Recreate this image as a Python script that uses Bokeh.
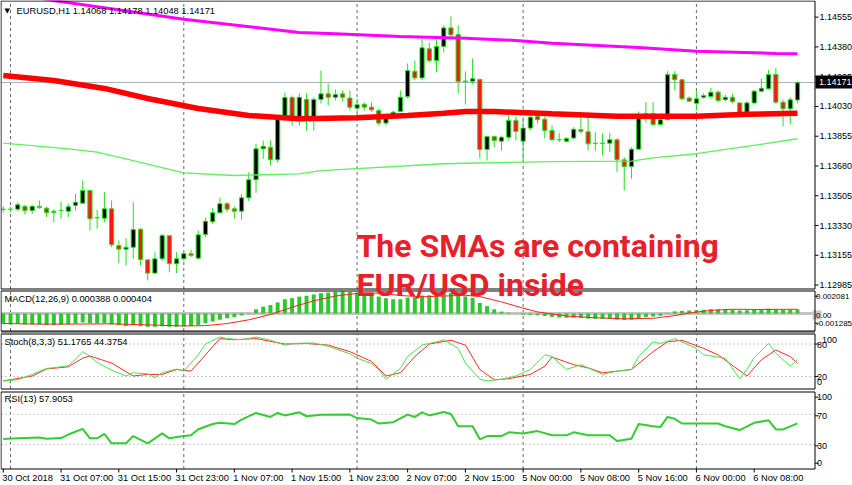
from bokeh.plotting import figure
from bokeh.models import Range1d, Label
from bokeh.embed import file_html
from bokeh.resources import INLINE

# ---------------- data ----------------
bar_index = list(range(111))
opens = [1.13424,1.13426,1.13426,1.13443,1.13418,1.13443,1.13432,1.13414,1.13418,1.13414,
         1.13448,1.13461,1.13536,1.13375,1.13373,1.13428,1.13212,1.13191,1.13202,1.13308,
         1.13128,1.13050,1.13134,1.13270,1.13105,1.13134,1.13164,1.13138,1.13277,1.13352,
         1.13405,1.13458,1.13428,1.13414,1.13493,1.13599,1.13781,1.13790,1.13716,1.13959,
         1.14083,1.13957,1.14071,1.13963,1.14071,1.14104,1.14084,1.14104,1.14079,1.14020,
         1.14043,1.14026,1.14006,1.13932,1.13967,1.14000,1.14088,1.14237,1.14198,1.14369,
         1.14300,1.14383,1.14492,1.14453,1.14177,1.14178,1.14188,1.13777,1.13853,1.13826,
         1.13849,1.13948,1.13826,1.13903,1.13971,1.13955,1.13889,1.13834,1.13826,1.13844,
         1.13893,1.13881,1.13814,1.13812,1.13814,1.13834,1.13716,1.13677,1.13779,1.13963,
         1.13987,1.13924,1.13952,1.14218,1.14187,1.14079,1.14049,1.14084,1.14088,1.14114,
         1.14069,1.14084,1.14051,1.13996,1.14051,1.14120,1.14134,1.14218,1.14055,1.14016,
         1.14068]
highs = [1.13442,1.13438,1.13467,1.13452,1.13452,1.13477,1.13442,1.13424,1.13469,1.13458,
         1.13516,1.13595,1.13540,1.13422,1.13526,1.13477,1.13242,1.13255,1.13467,1.13316,
         1.13130,1.13173,1.13281,1.13272,1.13173,1.13173,1.13187,1.13301,1.13375,1.13432,
         1.13493,1.13467,1.13442,1.13516,1.13643,1.13810,1.13830,1.13830,1.13977,1.14112,
         1.14094,1.14106,1.14106,1.14083,1.14241,1.14165,1.14130,1.14124,1.14124,1.14077,
         1.14053,1.14053,1.14018,1.13989,1.14006,1.14124,1.14283,1.14300,1.14430,1.14406,
         1.14435,1.14506,1.14559,1.14506,1.14236,1.14312,1.14194,1.13859,1.13859,1.13859,
         1.14006,1.13971,1.13965,1.13989,1.13989,1.13971,1.13918,1.13873,1.13849,1.13908,
         1.13967,1.13983,1.13879,1.13871,1.13873,1.13842,1.13732,1.13790,1.14000,1.14055,
         1.14055,1.13987,1.14237,1.14237,1.14193,1.14089,1.14124,1.14108,1.14140,1.14124,
         1.14098,1.14104,1.14055,1.14061,1.14128,1.14193,1.14246,1.14257,1.14069,1.14084,
         1.14178]
lows = [1.13406,1.13408,1.13412,1.13395,1.13399,1.13428,1.13379,1.13349,1.13369,1.13379,
        1.13418,1.13458,1.13301,1.13311,1.13349,1.13202,1.13108,1.13095,1.13134,1.13095,
        1.13007,1.13048,1.13124,1.13055,1.13050,1.13124,1.13144,1.13130,1.13261,1.13340,
        1.13399,1.13408,1.13369,1.13364,1.13473,1.13522,1.13722,1.13683,1.13700,1.13947,
        1.13918,1.13918,1.13889,1.13889,1.14047,1.14036,1.14065,1.14059,1.14006,1.13994,
        1.14006,1.14000,1.13918,1.13918,1.13959,1.13998,1.14077,1.14183,1.14183,1.14288,
        1.14230,1.14347,1.14441,1.14106,1.14041,1.14159,1.13724,1.13712,1.13789,1.13771,
        1.13830,1.13830,1.13712,1.13889,1.13930,1.13842,1.13830,1.13820,1.13820,1.13840,
        1.13869,1.13771,1.13771,1.13742,1.13761,1.13643,1.13536,1.13605,1.13776,1.13937,
        1.13918,1.13918,1.13950,1.14124,1.14065,1.14055,1.14006,1.14075,1.14075,1.14055,
        1.14061,1.14049,1.13987,1.13990,1.14041,1.14114,1.14128,1.14046,1.13912,1.13924,
        1.14048]
closes = [1.13426,1.13425,1.13452,1.13418,1.13443,1.13436,1.13405,1.13406,1.13419,1.13440,
          1.13467,1.13536,1.13369,1.13377,1.13428,1.13217,1.13191,1.13202,1.13306,1.13130,
          1.13050,1.13134,1.13271,1.13105,1.13134,1.13164,1.13154,1.13275,1.13355,1.13405,
          1.13458,1.13426,1.13414,1.13493,1.13599,1.13781,1.13796,1.13716,1.13959,1.14083,
          1.13959,1.14084,1.13963,1.14071,1.14104,1.14084,1.14100,1.14084,1.14026,1.14040,
          1.14026,1.14010,1.13932,1.13967,1.13996,1.14084,1.14241,1.14198,1.14375,1.14300,
          1.14383,1.14492,1.14451,1.14177,1.14179,1.14193,1.13777,1.13853,1.13830,1.13849,
          1.13948,1.13883,1.13903,1.13967,1.13952,1.13889,1.13834,1.13835,1.13842,1.13896,
          1.13883,1.13810,1.13812,1.13814,1.13834,1.13716,1.13677,1.13779,1.13981,1.13987,
          1.13924,1.13952,1.14218,1.14187,1.14075,1.14061,1.14075,1.14094,1.14114,1.14065,
          1.14084,1.14059,1.13993,1.14051,1.14120,1.14137,1.14218,1.14055,1.14016,1.14069,
          1.14171]

sma200_k = [0, 7, 25, 41, 46, 55, 64, 71, 76, 88, 96, 107, 110]
sma200 = [1.14700, 1.14653, 1.14543, 1.14465, 1.14457, 1.14441, 1.14431, 1.14418,
          1.14402, 1.14377, 1.14355, 1.14342, 1.14340]
sma100_k = [0, 7, 14, 20, 27, 34, 41, 49, 56, 61, 64, 68, 76, 85, 96, 103, 110]
sma100 = [1.14212, 1.14183, 1.14136, 1.14077, 1.14018, 1.13977, 1.13957, 1.13963, 1.13977,
          1.13990, 1.14000, 1.14000, 1.13987, 1.13973, 1.13973, 1.13984, 1.13990]
sma50_k = [0, 4, 9, 13, 18, 25, 32, 41, 44, 61, 64, 76, 87, 90, 96, 103, 110]
sma50 = [1.13814, 1.13800, 1.13781, 1.13761, 1.13712, 1.13640, 1.13624, 1.13634, 1.13653,
         1.13693, 1.13696, 1.13706, 1.13708, 1.13728, 1.13752, 1.13795, 1.13840]

macd_hist = [-0.00100,-0.00102,-0.00100,-0.00104,-0.00104,-0.00106,-0.00110,-0.00110,-0.00108,-0.00105,
             -0.00098,-0.00085,-0.00092,-0.00095,-0.00092,-0.00105,-0.00112,-0.00118,-0.00112,-0.00120,
             -0.00126,-0.00125,-0.00120,-0.00126,-0.00126,-0.00122,-0.00118,-0.00108,-0.00092,-0.00075,
             -0.00058,-0.00045,-0.00036,-0.00020,0.00005,0.00040,0.00065,0.00080,0.00105,0.00135,
             0.00145,0.00160,0.00168,0.00180,0.00192,0.00198,0.00205,0.00208,0.00203,0.00196,
             0.00188,0.00178,0.00160,0.00145,0.00135,0.00135,0.00150,0.00155,0.00170,0.00172,
             0.00180,0.00190,0.00196,0.00180,0.00162,0.00148,0.00100,0.00070,0.00040,0.00018,
             0.00008,-0.00002,-0.00010,-0.00012,-0.00016,-0.00024,-0.00032,-0.00038,-0.00040,-0.00040,
             -0.00042,-0.00048,-0.00050,-0.00052,-0.00052,-0.00058,-0.00062,-0.00060,-0.00044,-0.00034,
             -0.00028,-0.00022,0.00005,0.00020,0.00025,0.00028,0.00032,0.00036,0.00040,0.00038,
             0.00038,0.00036,0.00028,0.00030,0.00036,0.00040,0.00046,0.00040,0.00034,0.00034,
             0.000388]
macd_sig_k = [0, 5, 10, 15, 20, 25, 28, 31, 34, 37, 40, 43, 46, 49, 52, 55, 58, 61, 64, 66,
              69, 72, 74, 78, 82, 86, 90, 93, 95, 98, 101, 105, 110]
macd_sig = [-0.00095,-0.00100,-0.00100,-0.00098,-0.00108,-0.00118,-0.00115,-0.00095,-0.00060,
            -0.00010,0.00060,0.00120,0.00165,0.00190,0.00192,0.00170,0.00158,0.00165,0.00172,
            0.00160,0.00110,0.00050,0.00015,-0.00025,-0.00040,-0.00050,-0.00045,-0.00020,
            0.00005,0.00030,0.00040,0.00038,0.000404]

stoch_main_k = [0,2,4,6,8,9,10,11,12,13,15,17,18,20,21,22,24,25,27,28,30,31,33,35,37,39,40,43,45,
                48,49,51,52,53,55,56,58,60,61,63,64,66,67,69,71,73,75,76,78,80,82,83,85,87,88,90,
                91,93,94,96,97,100,102,103,104,106,107,109,110]
stoch_main = [12,14,24,35,38,40,52,66,57,46,32,21,27,25,18,27,34,30,60,80,93,90,88,93,87,78,81,82,76,
              62,54,44,33,15,35,57,78,84,88,72,45,15,12,15,21,33,60,57,33,42,30,24,30,33,57,84,
              81,90,84,72,60,54,16,33,55,81,63,39,51.18]
stoch_sig_k = [0,4,6,9,11,12,15,18,20,22,24,26,28,30,32,35,39,42,45,48,51,53,55,57,59,62,64,66,
               68,70,73,75,76,79,81,83,85,87,90,92,94,97,99,103,105,107,109,110]
stoch_sig = [12,21,34,38,54,58,45,21,24,24,33,30,60,90,88,90,80,81,78,66,48,21,27,57,80,87,78,33,
             14,16,24,39,56,42,36,27,30,33,66,84,87,72,60,21,51,69,57,44.38]

rsi_k = [0,2,5,6,8,9,11,12,13,14,15,17,18,20,22,23,25,26,27,29,30,32,33,35,37,38,39,41,42,44,48,
         49,51,52,54,56,57,58,59,61,62,63,65,66,67,69,70,72,74,76,78,79,81,84,85,87,88,90,91,92,
         93,94,99,100,102,104,106,107,108,110]
rsi = [37,38,39,37.5,38.3,43,50.6,38,38,44,31.3,31.3,41,31.3,44.5,38,41,42,50,57,58.6,57,63,71.8,
       66.5,71.8,68.5,72.6,67.4,69.5,69.6,65,63,57.7,59.5,69.6,66.5,72.6,68.5,73,70.5,54,54,36.6,
       41,41,46,44.3,47.6,42,42,46,42,42,34.4,37.5,57,54,53,66.5,64,57.7,57.7,54,49,58.6,62,49.8,
       49.8,57.9]

day_breaks = [1, 25, 49, 72, 96]
price_ticks = [1.14555, 1.14380, 1.14205, 1.14030, 1.13855, 1.13680, 1.13505, 1.13330, 1.13155, 1.12980]
price_labels = ["1.14555", "1.14380", "1.14205", "1.14030", "1.13855", "1.13680", "1.13505",
                "1.13330", "1.13155", "1.12985"]
macd_ticks = [0.001636, -0.000161, -0.000918]
macd_labels = ["0.002081", "0.00", "-0.001285"]
stoch_ticks = [87.8, 78.6, 18.8, 9.6]
stoch_labels = ["100", "80", "20", "0"]
stoch_levels = [80, 20]
rsi_ticks = [92.8, 68, 28, 4.8]
rsi_labels = ["100", "70", "30", "0"]
rsi_levels = [70, 30]
time_ticks = [0, 8, 16, 24, 32, 40, 48, 56, 64, 72, 80, 88, 96, 104]
time_labels = ["30 Oct 2018", "31 Oct 07:00", "31 Oct 15:00", "31 Oct 23:00", "1 Nov 07:00",
               "1 Nov 15:00", "1 Nov 23:00", "2 Nov 07:00", "2 Nov 15:00", "5 Nov 00:00",
               "5 Nov 08:00", "5 Nov 16:00", "6 Nov 00:00", "6 Nov 08:00"]
last_price = closes[-1]

title_main = "EURUSD,H1  1.14068 1.14178 1.14048 1.14171"
title_macd = "MACD(12,26,9) 0.000388 0.000404"
title_stoch = "Stoch(8,3,3) 51.1765 44.3754"
title_rsi = "RSI(13) 57.9053"
note_1 = "The SMAs are containing"
note_2 = "EUR/USD inside"

# ---------------- scales (MT4 window geometry, in screen pixels) ----------------
W, H = 852, 485
FONT = "Liberation Sans"
FS = "9.3px"
FSY = "9px"
WICK = "#22e022"
BEAR = "#ff1414"
NOTE_RED = "#e8202a"


def kx(px):          # horizontal pixel -> bar index
    return (px - 2.8) / 7.22


def price_at(py):    # main window pixel -> price
    return 1.14653 - 0.0000588 * py


def macd_at(py):
    return 0.002081 - (py - 291) * 0.0000946


def stoch_at(py):
    return 100 - (py - 332.7) / 0.542


def rsi_at(py):
    return 100 - (py - 391.3) / 0.75


p = figure(width=W, height=H, x_range=Range1d(kx(0), kx(W)),
           y_range=Range1d(price_at(H), price_at(0)), output_backend="svg",
           toolbar_location=None, x_axis_location=None, y_axis_location=None,
           min_border=0, min_border_left=0, min_border_right=0, min_border_top=0,
           min_border_bottom=0)
p.outline_line_color = None
p.grid.visible = False
p.extra_y_ranges = {"macd": Range1d(macd_at(H), macd_at(0)),
                    "stoch": Range1d(stoch_at(H), stoch_at(0)),
                    "rsi": Range1d(rsi_at(H), rsi_at(0))}

XL, XRT = kx(0.5), kx(814.5)
panels = [("default", price_at(0.5), price_at(288.5)),
          ("macd", macd_at(290.5), macd_at(330.5)),
          ("stoch", stoch_at(333.5), stoch_at(388.5)),
          ("rsi", rsi_at(391.5), rsi_at(468.5))]

# day separators
for name, top, bot in panels:
    p.segment(x0=day_breaks, x1=day_breaks, y0=[bot] * len(day_breaks),
              y1=[top] * len(day_breaks), line_color="#6a6a6a", line_dash="3 3",
              line_width=1, y_range_name=name)


def txt(x, y, s, rng="default", dx=0, size=FS, color="black", align="left",
        baseline="middle", font=FONT, style="normal"):
    p.add_layout(Label(x=x, y=y, x_offset=dx, text=s, text_font=font, text_font_size=size,
                       text_color=color, text_align=align, text_baseline=baseline,
                       text_font_style=style, y_range_name=rng))


def right_ticks(vals, rng):
    p.segment(x0=[XRT] * len(vals), x1=[kx(818)] * len(vals), y0=vals, y1=vals,
              line_color="black", line_width=1, y_range_name=rng)


# ---- main price window ----
p.segment(x0=[XL], x1=[XRT], y0=[last_price], y1=[last_price], line_color="#a8b0c0",
          line_width=1)
body_top = [max(o, c) for o, c in zip(opens, closes)]
body_bot = [min(o, c) for o, c in zip(opens, closes)]
fills = ["black" if c >= o else BEAR for o, c in zip(opens, closes)]
p.segment(x0=bar_index, y0=lows, x1=bar_index, y1=highs, line_color=WICK, line_width=1)
p.vbar(x=bar_index, width=0.58, top=body_top, bottom=body_bot, fill_color=fills,
       line_color=WICK, line_width=1)
p.line(sma50_k, sma50, line_color="#5ef05e", line_width=1.3)
p.line(sma100_k, sma100, line_color="#ff0000", line_width=5.5)
p.line(sma200_k, sma200, line_color="#ff00ff", line_width=3)
right_ticks(price_ticks, "default")
for v, s in zip(price_ticks, price_labels):
    txt(kx(819), v, s, size=FSY)
p.quad(left=[kx(815)], right=[kx(W)], top=[price_at(75)], bottom=[price_at(88)],
       fill_color="black", line_color=None)
txt(kx(818.5), last_price, "1.14171", size=FSY, color="white")
txt(kx(4), price_at(10), "\u25bc", size="7px", font="DejaVu Sans")
txt(kx(16), price_at(10), title_main)

# ---- MACD window ----
p.segment(x0=[XL], x1=[XRT], y0=[0], y1=[0], line_color="#c4c4c4", line_width=3,
          y_range_name="macd")
p.vbar(x=bar_index, top=macd_hist, bottom=0, width=0.55, fill_color="#2fc72f",
       line_color=None, y_range_name="macd")
p.line(macd_sig_k, macd_sig, line_color="#ff2020", line_width=1, y_range_name="macd")
right_ticks(macd_ticks, "macd")
p.quad(left=[kx(812)], right=[kx(821)], top=[macd_at(310)], bottom=[macd_at(319)],
       fill_color="#c8c8c8", line_color=None, y_range_name="macd")
for v, s in zip(macd_ticks, macd_labels):
    txt(kx(815.5), v, s, rng="macd", size="8px")
txt(kx(4), macd_at(298.5), title_macd, rng="macd")
p.segment(x0=[XL], x1=[XRT], y0=[macd_at(331.5)], y1=[macd_at(331.5)],
          line_color="#8c8c8c", line_width=2, y_range_name="macd")

# ---- Stochastic window ----
p.segment(x0=[XL] * 2, x1=[XRT] * 2, y0=stoch_levels, y1=stoch_levels,
          line_color="#c8c8c8", line_dash="2 2", line_width=1, y_range_name="stoch")
p.line(stoch_sig_k, stoch_sig, line_color="#ff2a2a", line_width=1, y_range_name="stoch")
p.line(stoch_main_k, stoch_main, line_color="#4ee04e", line_width=1, y_range_name="stoch")
right_ticks(stoch_levels, "stoch")
for v, s in zip(stoch_ticks, stoch_labels):
    txt(kx(821.5 if s == "100" else 816.5), v, s, rng="stoch", size=FSY)
txt(kx(4), stoch_at(341.5), title_stoch, rng="stoch")

# ---- RSI window ----
p.segment(x0=[XL] * 2, x1=[XRT] * 2, y0=rsi_levels, y1=rsi_levels,
          line_color="#c8c8c8", line_dash="2 2", line_width=1, y_range_name="rsi")
p.line(rsi_k, rsi, line_color="#33cc33", line_width=2, y_range_name="rsi")
right_ticks(rsi_ticks, "rsi")
for v, s in zip(rsi_ticks, rsi_labels):
    txt(kx(816.5), v, s, rng="rsi", size=FSY)
txt(kx(4), rsi_at(398.5), title_rsi, rng="rsi")

# time axis
p.segment(x0=time_ticks, x1=time_ticks, y0=[rsi_at(468.5)] * len(time_ticks),
          y1=[rsi_at(472)] * len(time_ticks), line_color="black", line_width=1,
          y_range_name="rsi")
for k, s in zip(time_ticks, time_labels):
    txt(k, rsi_at(477.5), s, rng="rsi", dx=-1)

# window frames
for name, top, bot in panels:
    p.quad(left=[XL], right=[XRT], top=[top], bottom=[bot], fill_color=None,
           line_color="black", line_width=1, y_range_name=name)

# annotation written across the chart
txt(kx(356), price_at(245), note_1, size="32px", color=NOTE_RED, baseline="alphabetic",
    font="Roboto", style="bold")
txt(kx(356), price_at(284), note_2, size="32px", color=NOTE_RED, baseline="alphabetic",
    font="Roboto", style="bold")

open("out.html", "w").write(file_html(p, INLINE))
